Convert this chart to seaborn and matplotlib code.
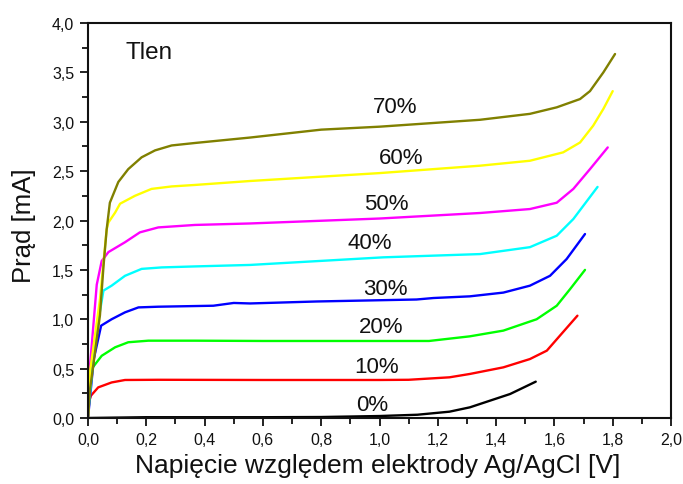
import matplotlib
matplotlib.use("Agg")
import matplotlib.pyplot as plt
from matplotlib.ticker import MultipleLocator, FuncFormatter
import seaborn as sns
import pandas as pd

# Current-voltage curves in oxygen at different concentrations
x0 = [0.0, 0.2, 0.4, 0.6, 0.8, 1.0, 1.13, 1.24, 1.31, 1.448, 1.536]
y0 = [0.0, 0.008, 0.008, 0.008, 0.01, 0.02, 0.033, 0.064, 0.108, 0.243, 0.368]

x10 = [0.0, 0.004, 0.01, 0.035, 0.081, 0.127, 0.241, 0.6, 1.0, 1.1, 1.24, 1.31, 1.425,
       1.516, 1.574, 1.619, 1.679]
y10 = [0.0, 0.17, 0.226, 0.31, 0.36, 0.385, 0.387, 0.385, 0.385, 0.387, 0.412, 0.446, 0.513,
       0.597, 0.682, 0.834, 1.036]

x20 = [0.0, 0.004, 0.013, 0.047, 0.093, 0.138, 0.207, 0.367, 0.6, 1.0, 1.17, 1.31, 1.425,
       1.539, 1.608, 1.654, 1.705]
y20 = [0.0, 0.40, 0.50, 0.63, 0.716, 0.767, 0.783, 0.783, 0.78, 0.78, 0.78, 0.827, 0.885,
       1.0, 1.137, 1.306, 1.50]

x30 = [0.0, 0.02, 0.045, 0.081, 0.127, 0.173, 0.241, 0.43, 0.5, 0.556, 0.785, 1.127, 1.185,
       1.31, 1.425, 1.516, 1.585, 1.642, 1.705]
y30 = [0.0, 0.6, 0.935, 1.0, 1.07, 1.12, 1.127, 1.137, 1.165, 1.16, 1.18, 1.2, 1.215,
       1.232, 1.27, 1.34, 1.44, 1.61, 1.863]

x40 = [0.0, 0.003, 0.025, 0.053, 0.081, 0.127, 0.184, 0.253, 0.367, 0.556, 1.013, 1.345,
       1.516, 1.608, 1.665, 1.748]
y40 = [0.0, 0.125, 0.8, 1.29, 1.34, 1.44, 1.51, 1.525, 1.535, 1.55, 1.627, 1.66,
       1.73, 1.846, 2.015, 2.34]

x50 = [0.0, 0.007, 0.03, 0.047, 0.07, 0.127, 0.178, 0.241, 0.367, 0.556, 1.0, 1.345,
       1.516, 1.608, 1.665, 1.722, 1.783]
y50 = [0.0, 0.53, 1.35, 1.59, 1.68, 1.78, 1.88, 1.93, 1.955, 1.97, 2.02, 2.076,
       2.116, 2.18, 2.32, 2.52, 2.74]

x60 = [0.0, 0.007, 0.041, 0.064, 0.070, 0.093, 0.11, 0.161, 0.218, 0.287, 0.367, 0.556,
       1.0, 1.345, 1.516, 1.63, 1.688, 1.733, 1.768, 1.80]
y60 = [0.0, 0.47, 1.2, 1.91, 1.98, 2.08, 2.17, 2.25, 2.32, 2.345, 2.36, 2.40,
       2.48, 2.555, 2.605, 2.69, 2.79, 2.96, 3.13, 3.31]

x70 = [0.0, 0.007, 0.041, 0.053, 0.064, 0.075, 0.104, 0.138, 0.184, 0.23, 0.287, 0.367,
       0.556, 0.8, 1.0, 1.345, 1.516, 1.608, 1.688, 1.722, 1.768, 1.808]
y70 = [0.0, 0.29, 1.04, 1.53, 1.91, 2.18, 2.39, 2.52, 2.64, 2.71, 2.76, 2.785,
       2.84, 2.92, 2.95, 3.02, 3.08, 3.146, 3.23, 3.31, 3.50, 3.686]

labels = ["0%", "10%", "20%", "30%", "40%", "50%", "60%", "70%"]
colors = ["#000000", "#FF0000", "#00FF00", "#0000FF", "#00FFFF", "#FF00FF", "#FFFF00", "#808000"]
label_x = [0.974, 0.991, 1.005, 1.019, 0.967, 1.022, 1.074, 1.053]
label_y = [0.14, 0.52, 0.93, 1.31, 1.78, 2.17, 2.64, 3.15]

series_x = [x0, x10, x20, x30, x40, x50, x60, x70]
series_y = [y0, y10, y20, y30, y40, y50, y60, y70]

sns.set_style("ticks")
plt.rcParams["font.family"] = ["Liberation Sans", "DejaVu Sans"]

fig = plt.figure(figsize=(6.83, 4.85), dpi=100)
ax = fig.add_axes([88 / 683, 66 / 485, 583 / 683, 395 / 485])

for xs, ys, col in zip(series_x, series_y, colors):
    df = pd.DataFrame({"U": xs, "I": ys})
    sns.lineplot(data=df, x="U", y="I", color=col, linewidth=1.7, sort=False,
                 estimator=None, ax=ax)

for lab, lx, ly in zip(labels, label_x, label_y):
    ax.text(lx, ly, lab, fontsize=16, ha="center", va="center", color="#111111")

ax.text(0.127, 3.71, "Tlen", fontsize=17.5, ha="left", va="center", color="#111111")

ax.set_xlim(0, 2.0)
ax.set_ylim(0, 4.0)
ax.xaxis.set_major_locator(MultipleLocator(0.2))
ax.xaxis.set_minor_locator(MultipleLocator(0.1))
ax.yaxis.set_major_locator(MultipleLocator(0.5))
ax.yaxis.set_minor_locator(MultipleLocator(0.25))
comma = FuncFormatter(lambda v, p: f"{v:.1f}".replace(".", ","))
ax.xaxis.set_major_formatter(comma)
ax.yaxis.set_major_formatter(comma)

ax.tick_params(which="major", direction="out", length=6, width=1.3, labelsize=11.5,
               color="#111111", labelcolor="#111111", pad=4)
ax.tick_params(which="minor", direction="out", length=4, width=1.3, color="#111111")
for s in ax.spines.values():
    s.set_linewidth(1.5)
    s.set_color("#111111")
    s.set_visible(True)

ax.set_xlabel("Napięcie względem elektrody Ag/AgCl [V]", fontsize=19, color="#111111")
ax.set_ylabel("Prąd [mA]", fontsize=18.5, color="#111111")
ax.xaxis.set_label_coords(0.497, -0.088)
ax.yaxis.set_label_coords(-0.089, 0.49)

fig.savefig("out.png", dpi=100)
